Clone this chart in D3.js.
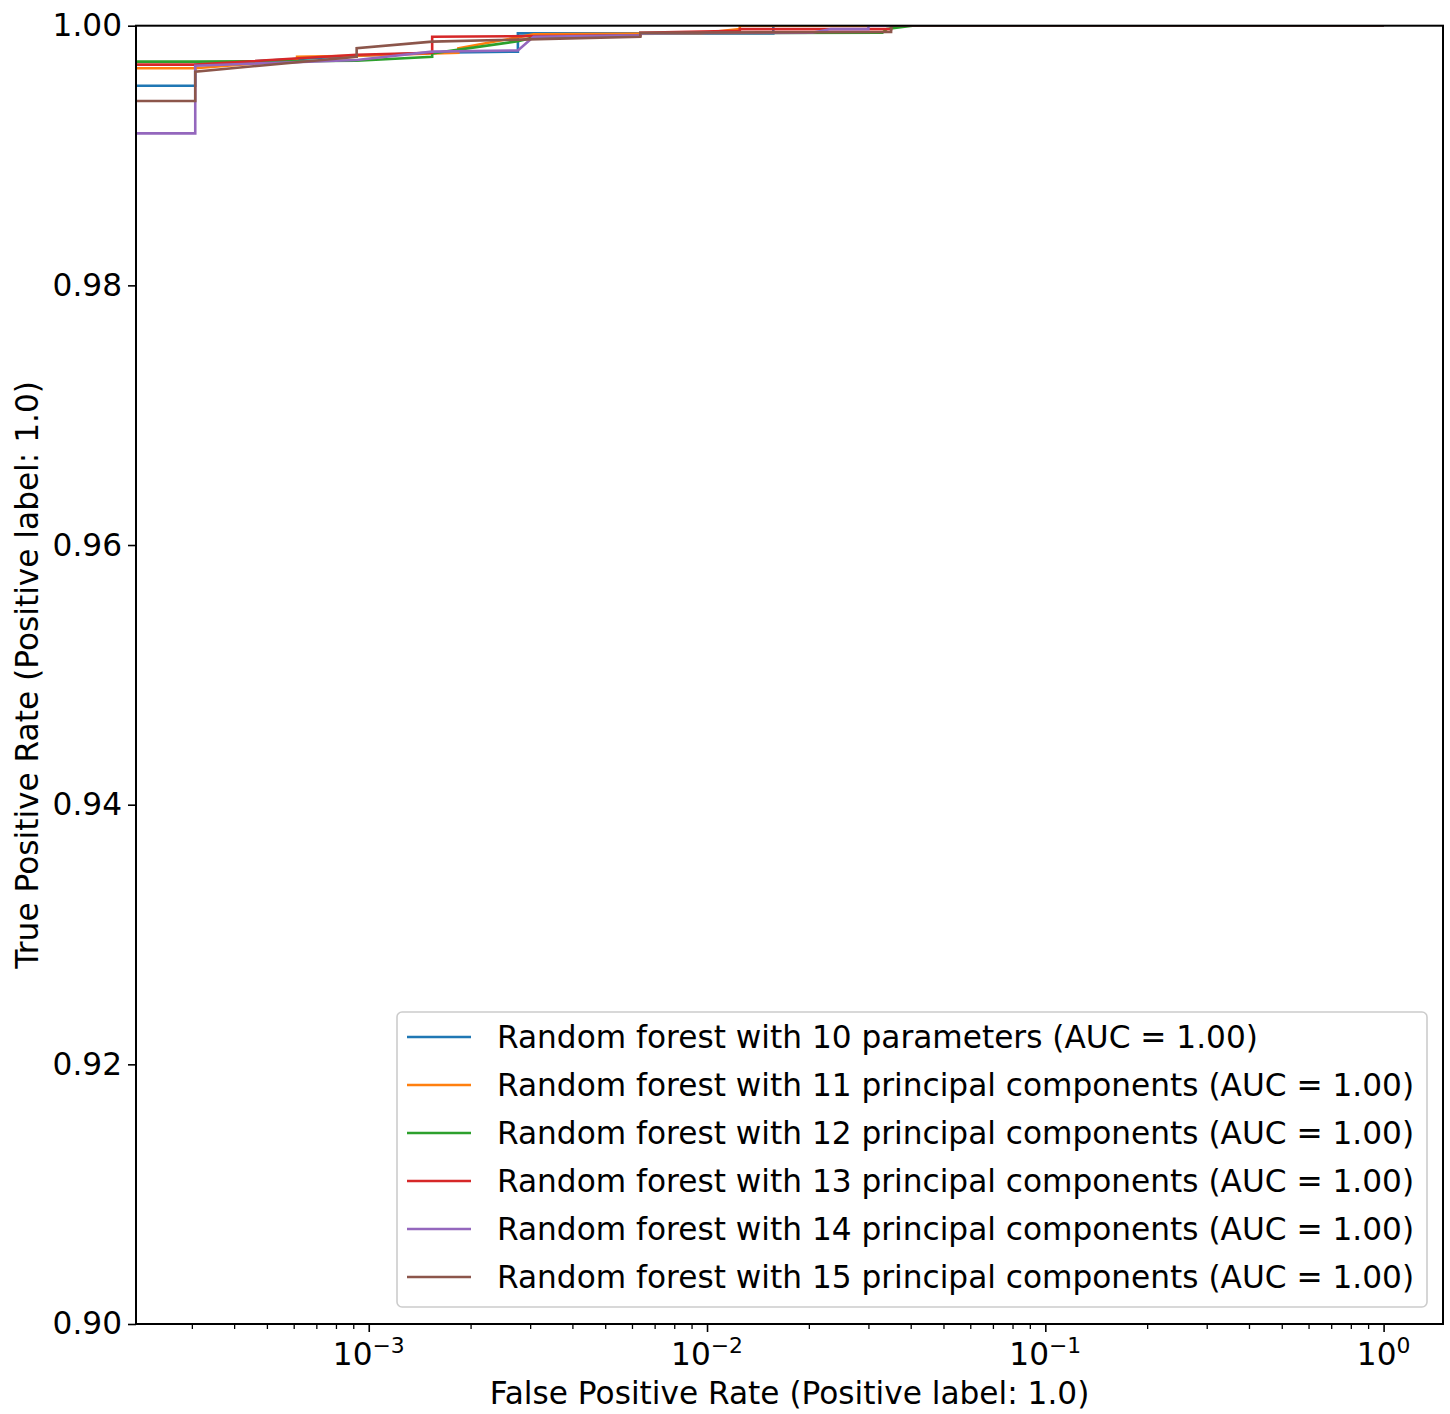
<!DOCTYPE html>
<html>
<head>
<meta charset="utf-8">
<script src="https://cdn.jsdelivr.net/npm/d3@7"></script>
<style>
  html, body { margin: 0; padding: 0; background: #fff; }
  svg { display: block; font-family: "DejaVu Sans", sans-serif; }
</style>
</head>
<body>
<svg id="chart" width="1450" height="1414"></svg>
<script>
// ROC curves (false positive rate vs true positive rate), corner points only.
const seriesNames = [
  "Random forest with 10 parameters (AUC = 1.00)",
  "Random forest with 11 principal components (AUC = 1.00)",
  "Random forest with 12 principal components (AUC = 1.00)",
  "Random forest with 13 principal components (AUC = 1.00)",
  "Random forest with 14 principal components (AUC = 1.00)",
  "Random forest with 15 principal components (AUC = 1.00)"
];
const seriesColors = ["#1f77b4", "#ff7f0e", "#2ca02c", "#d62728", "#9467bd", "#8c564b"];

const fpr10 = [0, 3.07e-4, 3.07e-4, 9.21e-4, 1.54e-3, 2.76e-3, 2.76e-3, 0.0157, 0.0157, 1];
const tpr10 = [0.99538, 0.99538, 0.99700, 0.99769, 0.99792, 0.99800, 0.99941, 0.99941, 1, 1];

const fpr11 = [0, 3.07e-4, 6.14e-4, 6.14e-4, 9.21e-4, 1.84e-3, 1.84e-3, 3.07e-3, 0.0095, 0.0125, 0.0125, 1];
const tpr11 = [0.99672, 0.99672, 0.99736, 0.99761, 0.99769, 0.99792, 0.99826, 0.99933, 0.99941, 0.99974, 1, 1];

const fpr12 = [0, 3.07e-4, 9.21e-4, 1.54e-3, 1.54e-3, 2.76e-3, 3.07e-3, 6.35e-3, 6.35e-3, 0.033, 0.034, 0.0405, 1];
const tpr12 = [0.99723, 0.99723, 0.99730, 0.99761, 0.99787, 0.99880, 0.99910, 0.99926, 0.99941, 0.99946, 0.99974, 1, 1];

const fpr13 = [0, 3.07e-4, 9.21e-4, 1.54e-3, 1.54e-3, 6.35e-3, 6.35e-3, 0.0125, 0.0125, 0.035, 0.035, 1];
const tpr13 = [0.99700, 0.99700, 0.99776, 0.99792, 0.99915, 0.99926, 0.99946, 0.99960, 0.99974, 0.99974, 1, 1];

const fpr14 = [0, 3.07e-4, 3.07e-4, 9.21e-4, 1.54e-3, 2.76e-3, 3.07e-3, 6.35e-3, 6.35e-3, 0.0205, 0.0232, 0.03, 0.03, 1];
const tpr14 = [0.99171, 0.99171, 0.99692, 0.99736, 0.99800, 0.99810, 0.99915, 0.99926, 0.99941, 0.99946, 0.99974, 0.99974, 1, 1];

const fpr15 = [0, 3.07e-4, 3.07e-4, 9.21e-4, 9.21e-4, 1.54e-3, 6.35e-3, 6.35e-3, 0.035, 0.035, 1];
const tpr15 = [0.99420, 0.99420, 0.99646, 0.99761, 0.99826, 0.99877, 0.99915, 0.99946, 0.99951, 1, 1];

const fprSeries = [fpr10, fpr11, fpr12, fpr13, fpr14, fpr15];
const tprSeries = [tpr10, tpr11, tpr12, tpr13, tpr14, tpr15];

const xDomain = [Math.pow(10, -3.688), Math.pow(10, 0.1756)];
const yDomain = [0.90, 1.00];
const yTicks = [0.90, 0.92, 0.94, 0.96, 0.98, 1.00];
const xTickExponents = ["\u22123", "\u22122", "\u22121", "0"];
const xTickValues = [1e-3, 1e-2, 1e-1, 1];

const plot = { left: 136, right: 1443, top: 25.7, bottom: 1324 };
const fontSize = 31.2;

const svg = d3.select("#chart");

const x = d3.scaleLog().domain(xDomain).range([plot.left, plot.right]);
const y = d3.scaleLinear().domain(yDomain).range([plot.bottom, plot.top]);

svg.append("defs").append("clipPath").attr("id", "plotClip")
  .append("rect")
  .attr("x", plot.left).attr("y", plot.top)
  .attr("width", plot.right - plot.left).attr("height", plot.bottom - plot.top);

// Curves: zero FPR is pinned to the left edge of the log axis
const line = d3.line()
  .x(d => x(Math.max(d[0], xDomain[0])))
  .y(d => y(d[1]));

const curves = svg.append("g").attr("clip-path", "url(#plotClip)");
fprSeries.forEach((f, i) => {
  const pts = f.map((v, j) => [v, tprSeries[i][j]]);
  curves.append("path")
    .datum(pts)
    .attr("d", line)
    .attr("fill", "none")
    .attr("stroke", seriesColors[i])
    .attr("stroke-width", 2.6)
    .attr("stroke-linejoin", "miter");
});

// Y axis
const yAxis = d3.axisLeft(y).tickValues(yTicks).tickFormat(d3.format(".2f"))
  .tickSize(8).tickPadding(6);
const gy = svg.append("g").attr("transform", `translate(${plot.left},0)`).call(yAxis);
gy.select(".domain").remove();
gy.selectAll(".tick line").attr("stroke", "#000").attr("stroke-width", 1.6);
gy.selectAll(".tick text").attr("font-size", fontSize).attr("fill", "#000")
  .attr("font-family", "DejaVu Sans");

// X axis: major ticks at decades, minor ticks in between
const minorTicks = [];
for (let e = -4; e <= 0; e++) {
  for (let m = 2; m <= 9; m++) {
    const v = m * Math.pow(10, e);
    if (v >= xDomain[0] && v <= xDomain[1]) minorTicks.push(v);
  }
}
const gxMinor = svg.append("g").attr("transform", `translate(0,${plot.bottom})`)
  .call(d3.axisBottom(x).tickValues(minorTicks).tickFormat("").tickSize(5));
gxMinor.select(".domain").remove();
gxMinor.selectAll(".tick line").attr("stroke", "#000").attr("stroke-width", 1.3);

const gx = svg.append("g").attr("transform", `translate(0,${plot.bottom})`)
  .call(d3.axisBottom(x).tickValues(xTickValues).tickFormat("").tickSize(8));
gx.select(".domain").remove();
gx.selectAll(".tick line").attr("stroke", "#000").attr("stroke-width", 1.6);

// Decade labels written as 10 with a superscript exponent
xTickValues.forEach((v, i) => {
  const t = svg.append("text")
    .attr("x", x(v))
    .attr("y", plot.bottom + 41)
    .attr("text-anchor", "middle")
    .attr("font-size", fontSize)
    .attr("fill", "#000");
  t.append("tspan").text("10");
  t.append("tspan")
    .attr("dy", -12)
    .attr("font-size", fontSize * 0.7)
    .text(xTickExponents[i]);
});

// Frame
svg.append("rect")
  .attr("x", plot.left).attr("y", plot.top)
  .attr("width", plot.right - plot.left).attr("height", plot.bottom - plot.top)
  .attr("fill", "none").attr("stroke", "#000").attr("stroke-width", 2);

// Axis titles
svg.append("text")
  .attr("x", (plot.left + plot.right) / 2)
  .attr("y", 1404)
  .attr("text-anchor", "middle")
  .attr("font-size", fontSize)
  .attr("fill", "#000")
  .text("False Positive Rate (Positive label: 1.0)");

svg.append("text")
  .attr("transform", `translate(38,${(plot.top + plot.bottom) / 2}) rotate(-90)`)
  .attr("text-anchor", "middle")
  .attr("font-size", fontSize)
  .attr("fill", "#000")
  .text("True Positive Rate (Positive label: 1.0)");

// Legend
const legend = svg.append("g");
legend.append("rect")
  .attr("x", 397).attr("y", 1012)
  .attr("width", 1030).attr("height", 295)
  .attr("rx", 5).attr("ry", 5)
  .attr("fill", "#fff").attr("fill-opacity", 0.8)
  .attr("stroke", "#cccccc").attr("stroke-width", 1.6);

seriesNames.forEach((name, i) => {
  const cy = 1037 + i * 48;
  legend.append("line")
    .attr("x1", 407).attr("x2", 471)
    .attr("y1", cy).attr("y2", cy)
    .attr("stroke", seriesColors[i]).attr("stroke-width", 2.6);
  legend.append("text")
    .attr("x", 497).attr("y", cy + 11)
    .attr("font-size", fontSize)
    .attr("fill", "#000")
    .text(name);
});
</script>
</body>
</html>
